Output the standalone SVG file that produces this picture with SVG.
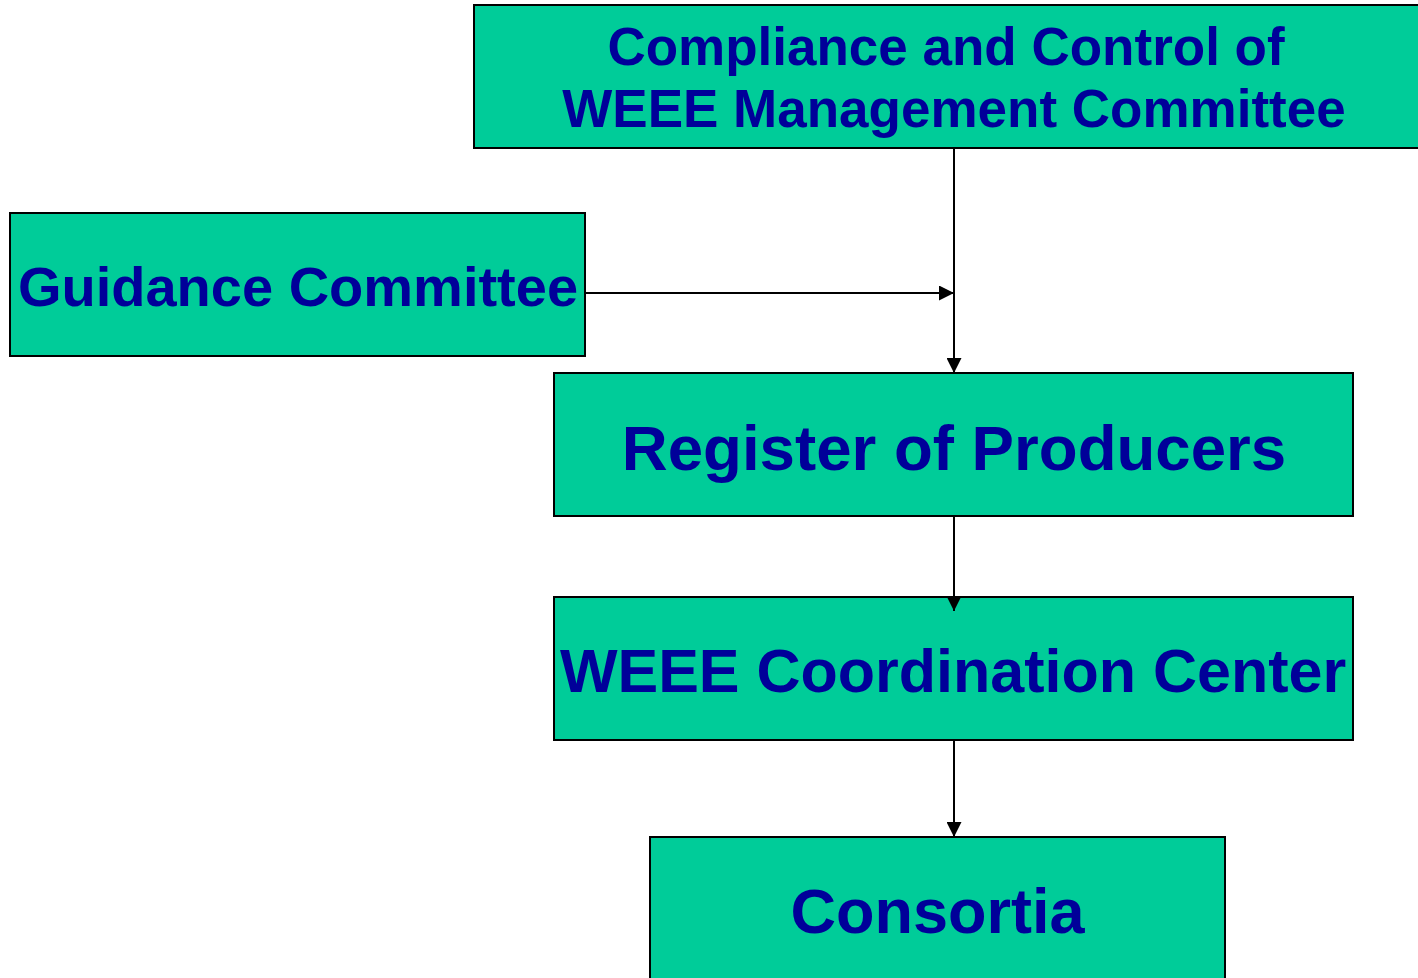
<svg xmlns="http://www.w3.org/2000/svg" width="1418" height="978" viewBox="0 0 1418 978">
<style>
.box{fill:#00CC99;stroke:#000;stroke-width:2}
.t{font-family:"Liberation Sans",Arial,sans-serif;font-weight:bold;fill:#000099;text-anchor:middle}
.c{stroke:#000;stroke-width:2;fill:none}
</style>
<defs>
<marker id="ah" viewBox="0 0 10 10" refX="10" refY="5" markerWidth="15" markerHeight="15" markerUnits="userSpaceOnUse" orient="auto">
<path d="M0,0 L10,5 L0,10 z" fill="#000"/>
</marker>
</defs>
<rect width="1418" height="978" fill="#fff"/>
<g id="n1"><rect class="box" x="474" y="5" width="950" height="143"/>
<text class="t" x="946" y="65" font-size="53">Compliance and Control of</text>
<text class="t" x="954" y="127" font-size="53">WEEE Management Committee</text></g>
<g id="n2"><rect class="box" x="10" y="213" width="575" height="143"/>
<text class="t" x="298" y="306" font-size="56">Guidance Committee</text></g>
<g id="n3"><rect class="box" x="554" y="373" width="799" height="143"/>
<text class="t" x="954" y="470" font-size="63.6">Register of Producers</text></g>
<g id="n4"><rect class="box" x="554" y="597" width="799" height="143"/>
<text class="t" x="953" y="692" font-size="61">WEEE Coordination Center</text></g>
<g id="n5"><rect class="box" x="650" y="837" width="575" height="150"/>
<text class="t" x="937.5" y="933" font-size="63">Consortia</text></g>
<g id="connectors">
<path class="c" d="M954,148 V373" marker-end="url(#ah)"/>
<path class="c" d="M585,293 H954" marker-end="url(#ah)"/>
<path class="c" d="M954,516 V611" marker-end="url(#ah)"/>
<path class="c" d="M954,740 V837" marker-end="url(#ah)"/>
</g>
</svg>
